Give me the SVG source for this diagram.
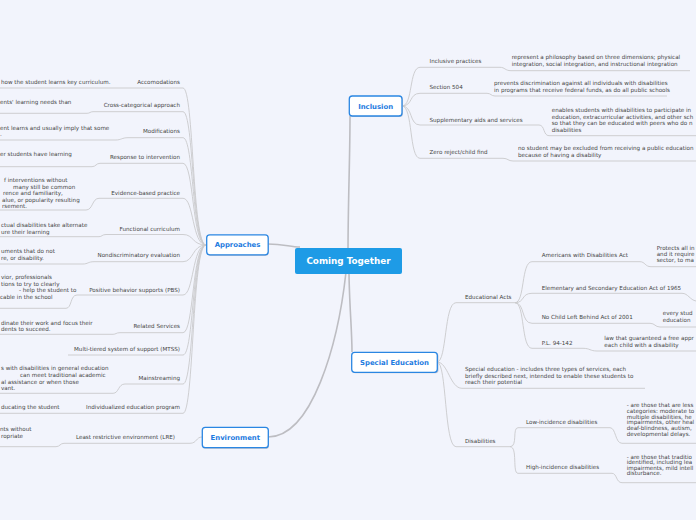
<svg xmlns="http://www.w3.org/2000/svg" width="696" height="520" viewBox="0 0 696 520">
<style>
.t{font-family:"DejaVu Sans",Verdana,sans-serif;font-size:5.6px;fill:#444}
.r{text-anchor:end}
.c{fill:none;stroke:#c9c9cc;stroke-width:0.9}
.m{fill:none;stroke:#bdbdc2;stroke-width:1.6}
.nb{fill:#fff;stroke:#2a86e2;stroke-width:1.3}
.sh{fill:#c8cbd6}
.nt{font-family:"DejaVu Sans",Verdana,sans-serif;font-weight:bold;font-size:6.9px;fill:#1d7be0;text-anchor:middle}
.rt{font-family:"DejaVu Sans",Verdana,sans-serif;font-weight:bold;font-size:8.8px;fill:#fff;text-anchor:middle}
</style>
<rect width="696" height="520" fill="#f2f4fc"/>
<g id="connectors">
<path class="m" d="M348,255 C348,200 350,160 350,116"/>
<path class="m" d="M349,270 C349,300 352,330 352,352"/>
<path class="m" d="M268,244 C284,244 290,247 300,247"/>
<path class="m" d="M268,437 C312,437 338,345 346,272"/>
<g class="c">
<path d="M183,88 C194,88 192,245 206,245"/>
<path d="M183,111.7 C194,111.7 192,245 206,245"/>
<path d="M183,137.7 C194,137.7 192,245 206,245"/>
<path d="M183,163.3 C194,163.3 192,245 206,245"/>
<path d="M183,198.3 C194,198.3 192,245 206,245"/>
<path d="M183,234.5 C194,234.5 192,245 206,245"/>
<path d="M183,261.7 C194,261.7 192,245 206,245"/>
<path d="M183,295 C194,295 192,245 206,245"/>
<path d="M183,332.7 C194,332.7 192,245 206,245"/>
<path d="M183,355 C194,355 192,245 206,245"/>
<path d="M183,384 C194,384 192,245 206,245"/>
<path d="M183,413.3 C194,413.3 192,245 206,245"/>
<path d="M190,443.3 C197,443.3 196,437 202,437"/>
<path d="M0,88 L183,88"/>
<path d="M0,113.3 L87,113.3 C90,113.3 90,111.7 93,111.7 L183,111.7"/>
<path d="M0,140 L116,140 C121,140 122,137.7 128,137.7 L183,137.7"/>
<path d="M0,166.7 L92,166.7 C96,166.7 96,163.3 100,163.3 L183,163.3"/>
<path d="M0,210 L86,210 C93,210 92,198.3 99,198.3 L183,198.3"/>
<path d="M0,236.7 L99,236.7 C102,236.7 102,234.5 106,234.5 L183,234.5"/>
<path d="M0,264 L83,264 C88,264 88,261.7 94,261.7 L183,261.7"/>
<path d="M0,308.3 L66,308.3 C72,308.3 70,295 77,295 L183,295"/>
<path d="M0,334.3 L113,334.3 C116,334.3 116,332.7 120,332.7 L183,332.7"/>
<path d="M68,355 L183,355"/>
<path d="M0,393.3 L113,393.3 C119,393.3 118,384 125,384 L183,384"/>
<path d="M0,413.3 L183,413.3"/>
<path d="M0,446.7 L56,446.7 C60,446.7 60,443.3 64,443.3 L190,443.3"/>
</g>
<g class="c">
<path d="M402,106 C413,106 409,67.3 420,67.3 L500,67.3 C505,67.3 505,70.7 511,70.7 L690,70.7"/>
<path d="M402,106 C413,106 409,93.3 420,93.3 L487,93.3 C491,93.3 491,96 495,96 L667,96"/>
<path d="M402,106 C413,106 409,125 420,125 L539,125 C545,125 543,135.7 549,135.7 L696,135.7"/>
<path d="M402,106 C413,106 409,158.3 420,158.3 L503,158.3 C508,158.3 508,161 513,161 L696,161"/>
</g>
<g class="c">
<path d="M437,362 C447,362 444,302.7 456,302.7 L515,302.7"/>
<path d="M437,362 C448,362 450,388.3 462,388.3 L645,388.3"/>
<path d="M437,362 C447,362 444,446.7 456,446.7 L510,446.7"/>
<path d="M515,302.7 C525,302.7 521,261.7 532,261.7 L640,261.7 C645,261.7 645,266.7 651,266.7 L696,266.7"/>
<path d="M515,302.7 C525,302.7 521,293.3 532,293.3 L682,293.3 C688,293.3 690,300 696,301"/>
<path d="M515,302.7 C525,302.7 521,323.3 532,323.3 L650,323.3 C655,323.3 655,327 660,327 L696,327"/>
<path d="M515,302.7 C525,302.7 521,348.3 532,348.3 L583,348.3 C590,348.3 590,351 597,351 L696,351"/>
<path d="M510,446.7 C518,446.7 512,427.7 518,427.7 L610,427.7 C616,427.7 615,443.3 622,443.3 L696,443.3"/>
<path d="M510,446.7 C518,446.7 512,473.3 518,473.3 L612,473.3 C617,473.3 616,482.7 622,482.7 L696,482.7"/>
</g>
</g>
<g id="root"><rect x="295" y="248" width="107" height="26" rx="2" fill="#1e9be6"/><text class="rt" x="348.5" y="264.2">Coming Together</text></g>
<g id="approaches"><rect class="sh" x="207.5" y="236" width="61" height="20" rx="3"/><rect class="nb" x="206.7" y="234.8" width="61.5" height="20" rx="3"/><text class="nt" x="237.5" y="247.4">Approaches</text></g>
<g id="environment"><rect class="sh" x="203" y="428.5" width="66" height="20.5" rx="3"/><rect class="nb" x="202.3" y="427.3" width="66" height="20.4" rx="3"/><text class="nt" x="235.3" y="440">Environment</text></g>
<g id="inclusion"><rect class="sh" x="350" y="97" width="53" height="20" rx="3"/><rect class="nb" x="349.3" y="96" width="52.7" height="20" rx="3"/><text class="nt" x="375.6" y="108.5">Inclusion</text></g>
<g id="special-education"><rect class="sh" x="352.5" y="353.3" width="86" height="20" rx="3"/><rect class="nb" x="351.7" y="352.3" width="85.6" height="20" rx="3"/><text class="nt" x="394.5" y="364.6">Special Education</text></g>
<g id="approaches-children">
<text class="t r" x="180" y="84">Accomodations</text>
<text class="t" x="1" y="84">how the student learns key curriculum.</text>
<text class="t r" x="180" y="106.7">Cross-categorical approach</text>
<text class="t" x="0" y="104.3">ents' learning needs than</text>
<text class="t r" x="180" y="133">Modifications</text>
<text class="t" x="0" y="130">ent learns and usually imply that some</text>
<text class="t" x="0" y="136">.</text>
<text class="t r" x="180" y="159">Response to intervention</text>
<text class="t" x="0" y="156">er students have learning</text>
<text class="t r" x="180" y="195">Evidence-based practice</text>
<text class="t" x="4" y="182">f interventions without</text>
<text class="t" x="13" y="188.5">many still be common</text>
<text class="t" x="3" y="195">rence and familiarity,</text>
<text class="t" x="2" y="201.5">alue, or popularity resulting</text>
<text class="t" x="2" y="208">rsement.</text>
<text class="t r" x="180" y="230.7">Functional curriculum</text>
<text class="t" x="1" y="227">ctual disabilities take alternate</text>
<text class="t" x="1" y="233.6">ure their learning</text>
<text class="t r" x="180" y="257">Nondiscriminatory evaluation</text>
<text class="t" x="1" y="252.7">uments that do not</text>
<text class="t" x="1" y="259.5">re, or disability.</text>
<text class="t r" x="180" y="292">Positive behavior supports (PBS)</text>
<text class="t" x="1" y="278.7">vior, professionals</text>
<text class="t" x="1" y="285.5">tions to try to clearly</text>
<text class="t" x="19" y="292">- help the student to</text>
<text class="t" x="0" y="298.5">cable in the school</text>
<text class="t r" x="180" y="327.7">Related Services</text>
<text class="t" x="1" y="324.7">dinate their work and focus their</text>
<text class="t" x="1" y="331.3">dents to succeed.</text>
<text class="t r" x="180" y="351.3">Multi-tiered system of support (MTSS)</text>
<text class="t r" x="180" y="380.3">Mainstreaming</text>
<text class="t" x="1" y="370.3">s with disabilities in general education</text>
<text class="t" x="20" y="377">can meet traditional academic</text>
<text class="t" x="1" y="383.5">al assistance or when those</text>
<text class="t" x="1" y="390">vant.</text>
<text class="t r" x="180" y="409.3">Individualized education program</text>
<text class="t" x="1" y="409.3">ducating the student</text>
</g>
<g id="environment-children">
<text class="t r" x="175" y="439">Least restrictive environment (LRE)</text>
<text class="t" x="0" y="431.3">nts without</text>
<text class="t" x="1" y="438.3">ropriate</text>
</g>
<g id="inclusion-children">
<text class="t" x="429.5" y="62.7">Inclusive practices</text>
<text class="t" x="511.7" y="59.3">represent a philosophy based on three dimensions; physical</text>
<text class="t" x="511.7" y="66">integration, social integration, and instructional integration</text>
<text class="t" x="429.5" y="88.7">Section 504</text>
<text class="t" x="494" y="85.3">prevents discrimination against all individuals with disabilities</text>
<text class="t" x="494" y="92">in programs that receive federal funds, as do all public schools</text>
<text class="t" x="429.5" y="122">Supplementary aids and services</text>
<text class="t" x="551.7" y="112">enables students with disabilities to participate in</text>
<text class="t" x="551.7" y="118.5">education, extracurricular activities, and other sch</text>
<text class="t" x="551.7" y="125">so that they can be educated with peers who do n</text>
<text class="t" x="551.7" y="131.5">disabilities</text>
<text class="t" x="429.5" y="153.7">Zero reject/child find</text>
<text class="t" x="518" y="150.3">no student may be excluded from receiving a public education</text>
<text class="t" x="518" y="157">because of having a disability</text>
</g>
<g id="special-education-children">
<text class="t" x="465" y="298.7">Educational Acts</text>
<text class="t" x="541.7" y="257">Americans with Disabilities Act</text>
<text class="t" x="656.7" y="249.5">Protects all in</text>
<text class="t" x="656.7" y="255.8">and it require</text>
<text class="t" x="656.7" y="262">sector, to ma</text>
<text class="t" x="541.7" y="289.7">Elementary and Secondary Education Act of 1965</text>
<text class="t" x="541.7" y="319.3">No Child Left Behind Act of 2001</text>
<text class="t" x="662.7" y="315.3">every stud</text>
<text class="t" x="662.7" y="322">education</text>
<text class="t" x="541.7" y="344.7">P.L. 94-142</text>
<text class="t" x="604.3" y="340.3">law that guaranteed a free appr</text>
<text class="t" x="604.3" y="346.8">each child with a disability</text>
<text class="t" x="465" y="371">Special education - includes three types of services, each</text>
<text class="t" x="465" y="377.7">briefly described next, intended to enable these students to</text>
<text class="t" x="465" y="384">reach their potential</text>
<text class="t" x="465" y="442.7">Disabilities</text>
<text class="t" x="526" y="423.7">Low-incidence disabilities</text>
<text class="t" x="626.7" y="407.3">- are those that are less</text>
<text class="t" x="626.7" y="413">categories: moderate to</text>
<text class="t" x="626.7" y="418.7">multiple disabilities, he</text>
<text class="t" x="626.7" y="424.4">impairments, other heal</text>
<text class="t" x="626.7" y="430.1">deaf-blindness, autism,</text>
<text class="t" x="626.7" y="435.8">developmental delays.</text>
<text class="t" x="526" y="469">High-incidence disabilities</text>
<text class="t" x="626.7" y="458.7">- are those that traditio</text>
<text class="t" x="626.7" y="464.2">identified, including lea</text>
<text class="t" x="626.7" y="469.7">impairments, mild intell</text>
<text class="t" x="626.7" y="475.2">disturbance.</text>
</g>
</svg>
